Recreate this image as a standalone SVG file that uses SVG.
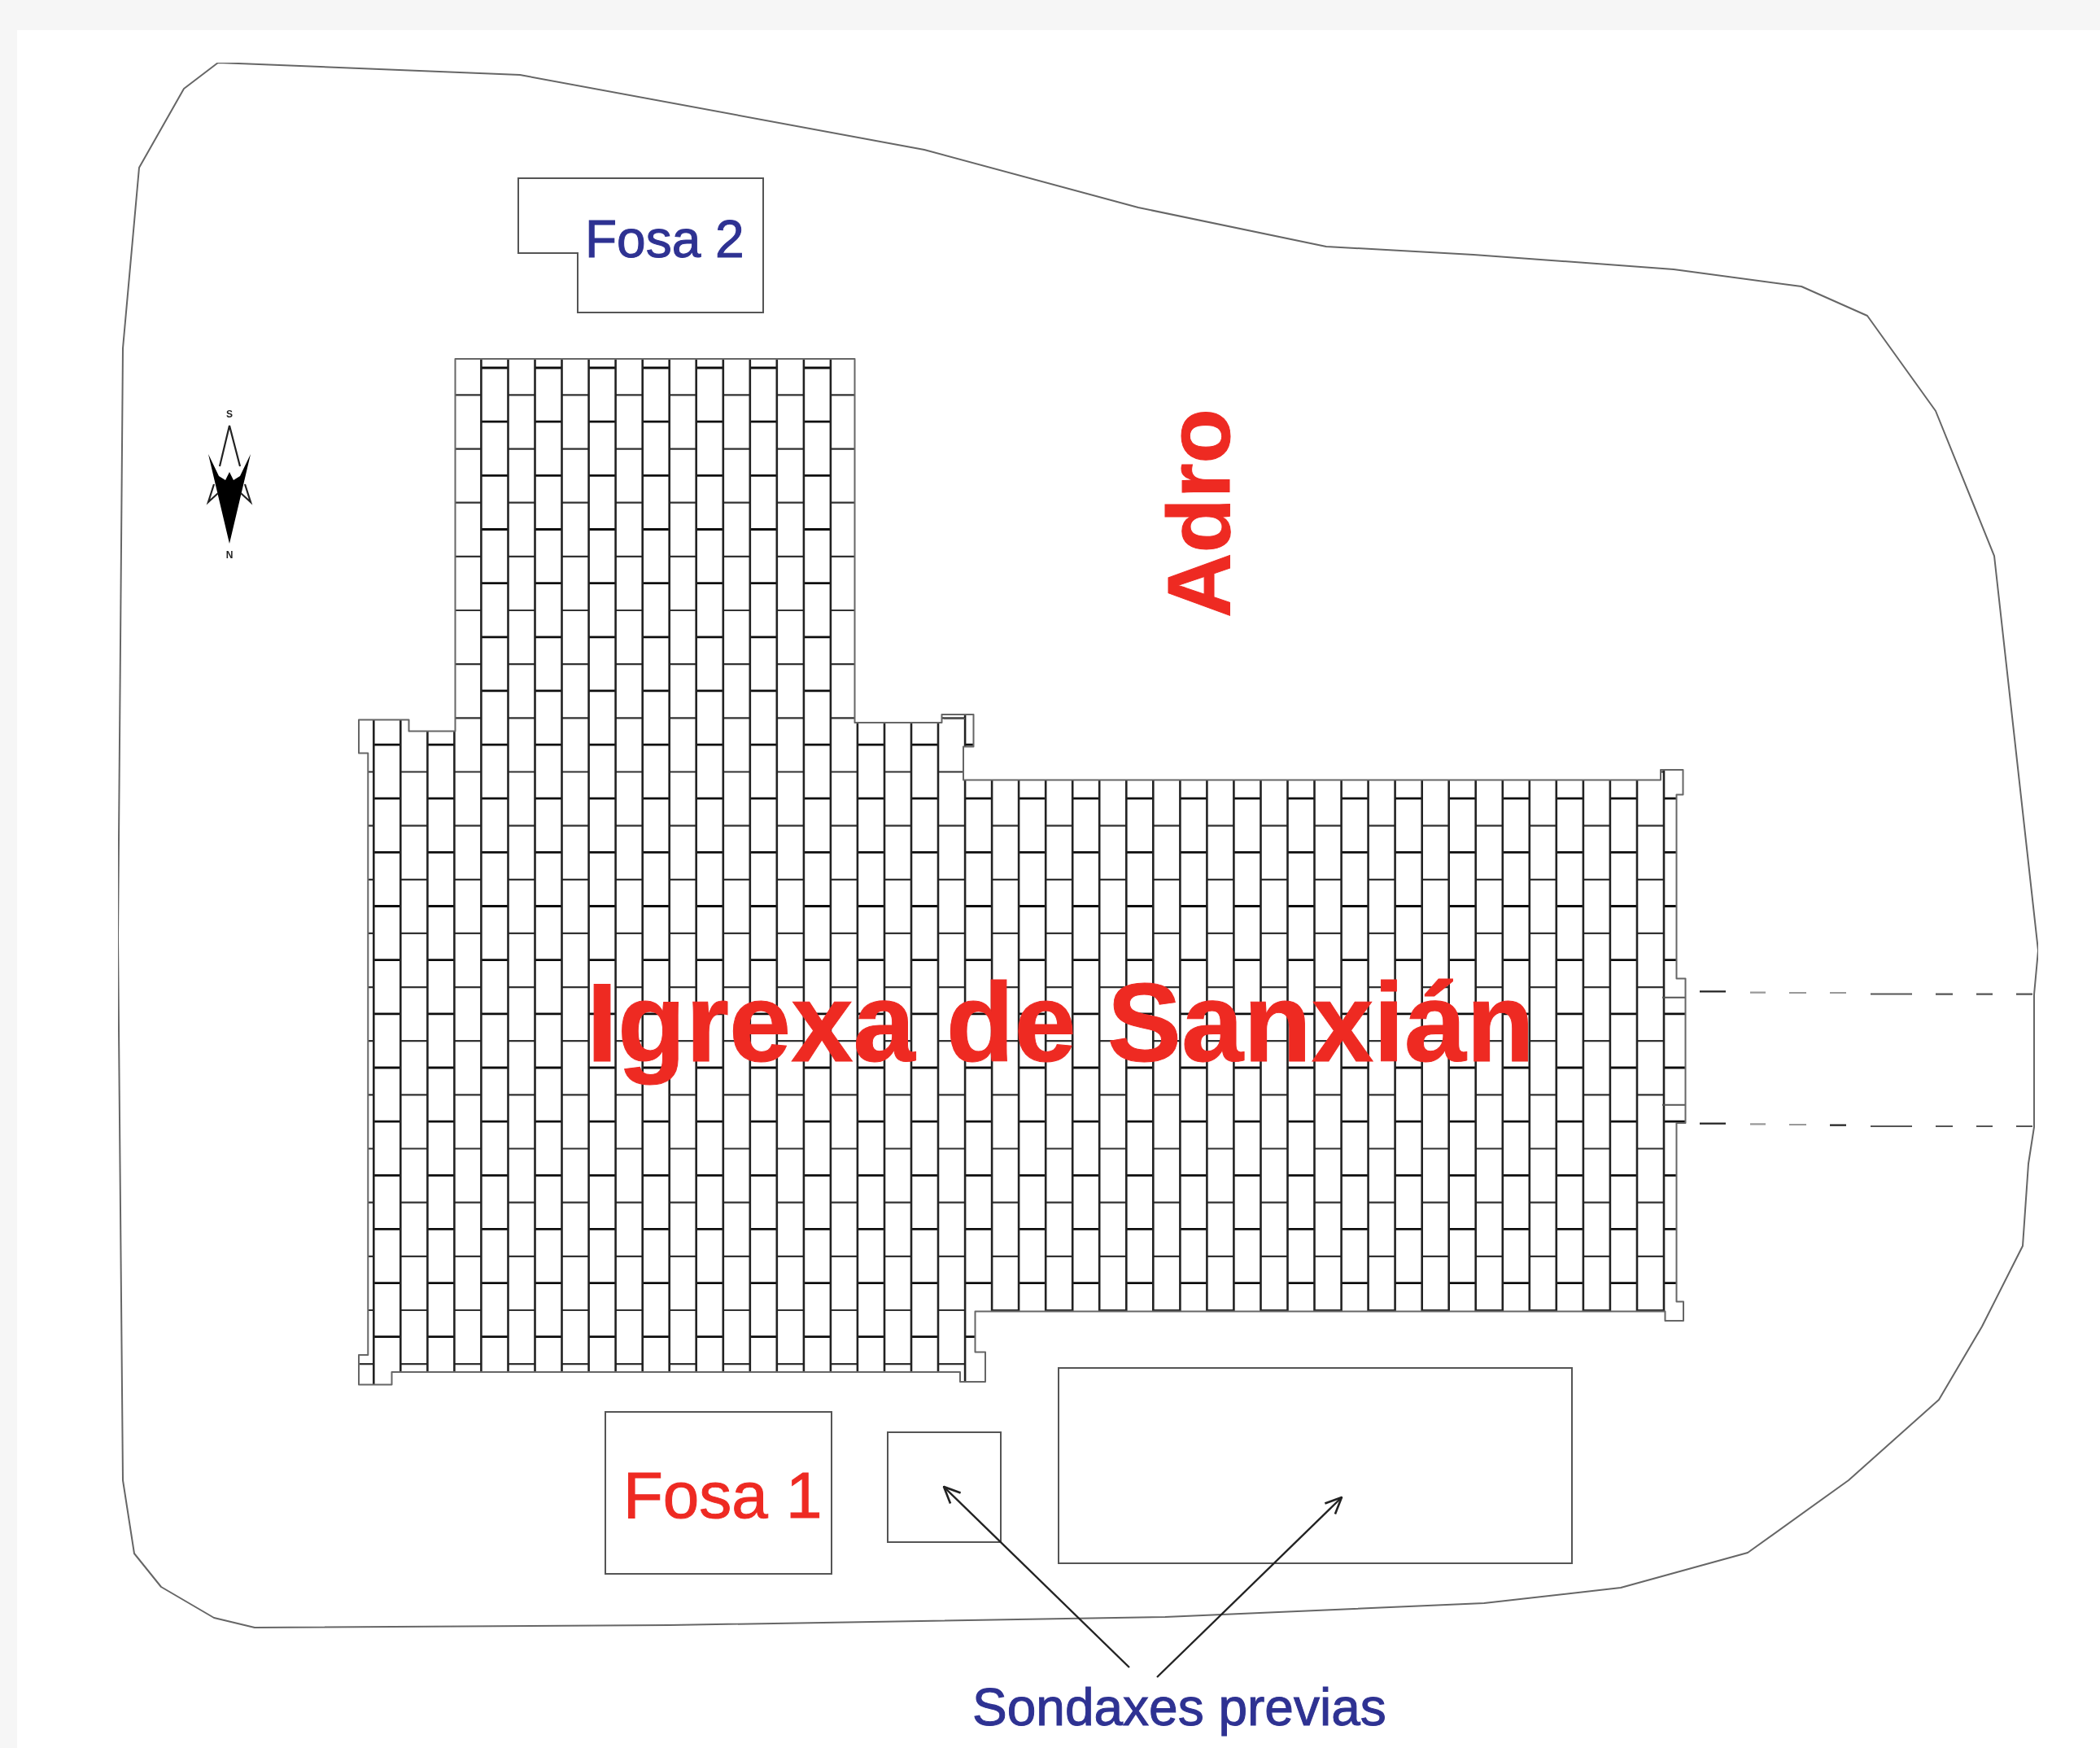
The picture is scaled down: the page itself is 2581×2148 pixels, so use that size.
<svg xmlns="http://www.w3.org/2000/svg" width="2581" height="2148" viewBox="0 0 2581 2148">
<style>
.o{fill:none;stroke:#666;stroke-width:2;stroke-linejoin:round}
.b{fill:none;stroke:#555;stroke-width:2}
.v{fill:none;stroke:#222;stroke-width:2.6}
.ra{fill:none;stroke:#333;stroke-width:2.2;stroke-dasharray:33.035 33.035}
.rb{fill:none;stroke:#111;stroke-width:2.8;stroke-dasharray:33.035 33.035}
.t{font-family:"Liberation Sans",Arial,sans-serif}
.red{fill:#ee2a24;stroke:#ee2a24}
.blue{fill:#2e3192;stroke:#2e3192}
.thin{stroke-width:1}
.d{fill:none;stroke-width:2.2}
</style>
<defs>
<filter id="soft" x="0" y="0" width="1" height="1" filterUnits="objectBoundingBox"><feGaussianBlur stdDeviation="0.6"/></filter>
<clipPath id="church-clip"><path id="church-shape" d="M559.5 441H1050.5V888H1157.5V878H1196.5V917.5H1184V958.5H2041V946H2068.5V976.5H2060.5V1202.5H2071.5V1380H2060.5V1599.5H2069V1623H2046.5V1611.5H1198.5V1661.5H1211V1698H1180V1686H481.5V1701.5H441V1665H452.3V925.5H441V884.5H502.5V898.5H559.5Z"/></clipPath>
<marker id="arrow" viewBox="0 0 24 24" refX="23" refY="12" markerWidth="24" markerHeight="24" markerUnits="userSpaceOnUse" orient="auto"><path d="M3 3L23 12L3 21" fill="none" stroke="#222" stroke-width="2.6"/></marker>
</defs>
<rect id="background" width="2581" height="2148" fill="#f6f6f6"/>
<rect id="page" x="21" y="37" width="2560" height="2111" fill="#fff"/>
<g id="plan" filter="url(#soft)">
<g id="adro-boundary">
<path class="o" d="M268 77L639 92L1136 184L1399 255L1630 303L1811 313L2057 331L2214 352L2295 388L2379 505L2451 683L2505 1168L2500 1222V1385L2493 1430L2486 1531L2436 1630L2383 1720L2272 1819L2148 1908L1992 1951L1824 1970L1432 1987L823 1997L313 2000L263 1988L198 1950L165 1909L151 1819L145 1152L151 428L171 206L226 109Z"/>
</g>
<g id="igrexa">
<g clip-path="url(#church-clip)">
<path class="ra" d="M426.3 485.4H2080M426.3 551.6H2080M426.3 617.7H2080M426.3 683.9H2080M426.3 750H2080M426.3 816.2H2080M426.3 882.3H2080M426.3 948.5H2080M426.3 1014.6H2080M426.3 1080.8H2080M426.3 1146.9H2080M426.3 1213.1H2080M426.3 1279.2H2080M426.3 1345.4H2080M426.3 1411.5H2080M426.3 1477.7H2080M426.3 1543.8H2080M426.3 1610H2080M426.3 1676.1H2080"/>
<path class="rb" d="M459.3 452H2080M459.3 518.2H2080M459.3 584.3H2080M459.3 650.5H2080M459.3 716.6H2080M459.3 782.8H2080M459.3 848.9H2080M459.3 915.1H2080M459.3 981.2H2080M459.3 1047.4H2080M459.3 1113.5H2080M459.3 1179.7H2080M459.3 1245.8H2080M459.3 1312H2080M459.3 1378.1H2080M459.3 1444.3H2080M459.3 1510.4H2080M459.3 1576.6H2080M459.3 1642.7H2080"/>
<path class="v" d="M459.3 400V1710M492.3 400V1710M525.4 400V1710M558.4 400V1710M591.4 400V1710M624.5 400V1710M657.5 400V1710M690.5 400V1710M723.6 400V1710M756.6 400V1710M789.7 400V1710M822.7 400V1710M855.7 400V1710M888.8 400V1710M921.8 400V1710M954.8 400V1710M987.9 400V1710M1020.9 400V1710M1053.9 400V1710M1087 400V1710M1120 400V1710M1153 400V1710M1186.1 400V1710M1219.1 400V1710M1252.1 400V1710M1285.2 400V1710M1318.2 400V1710M1351.2 400V1710M1384.3 400V1710M1417.3 400V1710M1450.4 400V1710M1483.4 400V1710M1516.4 400V1710M1549.5 400V1710M1582.5 400V1710M1615.5 400V1710M1648.6 400V1710M1681.6 400V1710M1714.6 400V1710M1747.7 400V1710M1780.7 400V1710M1813.7 400V1710M1846.8 400V1710M1879.8 400V1710M1912.8 400V1710M1945.9 400V1710M1978.9 400V1710M2012 400V1710M2045 400V1710"/>
<path class="b" d="M2043 1225.7H2071M2043 1357.7H2071M1160 883H1186"/>
</g>
<use href="#church-shape" class="o"/>
</g>
<g id="entrada">
<path class="d" stroke="#222" d="M2089 1218.3H2121M2089 1380.7H2121M2249 1382.7H2269"/>
<path class="d" stroke="#999" d="M2151 1219.7H2170M2151 1381.3H2170M2199 1220H2220M2199 1382H2220M2249 1220H2269"/>
<path class="d" stroke="#555" d="M2299 1221.5H2350M2379 1221.7H2400M2429 1221.7H2449M2478 1221.7H2498M2299 1384H2350M2379 1384H2400M2429 1384H2449M2478 1384H2498"/>
</g>
<g id="compass">
<path fill="#000" d="M256 558L269 585L277 590L282 580L287 590L295 585L308 558L282 668Z"/>
<path fill="none" stroke="#222" stroke-width="2.2" d="M270 573L282 523L295 573M263 595L256 617L268 606M301 595L308 617L296 606"/>
<text class="t" x="282" y="513" font-size="12" font-weight="700" text-anchor="middle" fill="#222">S</text>
<text class="t" x="282" y="686" font-size="12" font-weight="700" text-anchor="middle" fill="#222">N</text>
</g>
<g id="fosa-2">
<path class="b" d="M637 219H938V384H710V311H637Z"/>
<text class="t blue thin" x="719" y="316" font-size="64">Fosa 2</text>
</g>
<g id="fosa-1">
<rect class="b" x="744" y="1735" width="278" height="199"/>
<text class="t red thin" x="766" y="1865" font-size="80">Fosa 1</text>
</g>
<g id="sondaxe-1"><rect class="b" x="1091" y="1760" width="139" height="135"/></g>
<g id="sondaxe-2"><rect class="b" x="1301" y="1681" width="631" height="240"/></g>
<g id="connectors">
<path fill="none" stroke="#222" stroke-width="2.4" marker-end="url(#arrow)" d="M1388 2049L1160 1827"/>
<path fill="none" stroke="#222" stroke-width="2.4" marker-end="url(#arrow)" d="M1422 2061L1649 1840"/>
</g>
<g id="labels">
<text class="t red thin" x="721" y="1304" font-size="137" font-weight="700">Igrexa de Sanxián</text>
<text class="t red thin" transform="translate(1511 759) rotate(-90)" font-size="110" font-weight="700">Adro</text>
<text class="t blue thin" x="1195" y="2120" font-size="64">Sondaxes previas</text>
</g>
</g>
</svg>
